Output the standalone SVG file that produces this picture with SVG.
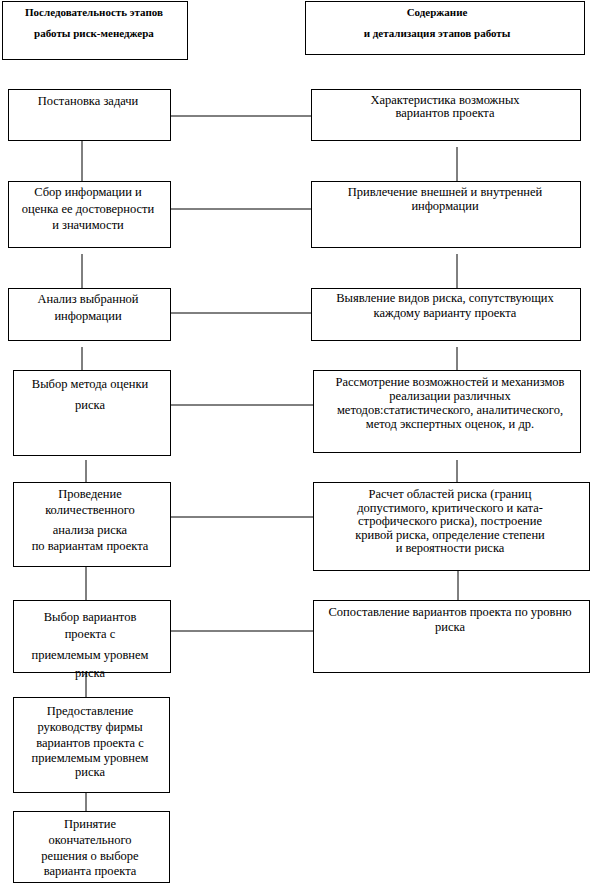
<svg xmlns="http://www.w3.org/2000/svg" width="590" height="890" viewBox="0 0 590 890" font-family="'Liberation Serif', 'DejaVu Serif', serif">
<style>
rect{fill:#fff;stroke:#000;stroke-width:1}
text{font-family:'Liberation Serif','DejaVu Serif',serif;font-size:12.5px;fill:#000;text-anchor:middle}
.h{font-weight:bold;font-size:11px}
#connectors line{stroke:#000;stroke-width:1}
</style>
<rect x="0" y="0" width="590" height="890" style="stroke:none"/>
<g id="connectors">
<line x1="170" y1="116" x2="311" y2="116"/>
<line x1="170" y1="209" x2="311" y2="209"/>
<line x1="170" y1="313" x2="311" y2="313"/>
<line x1="170" y1="405" x2="313" y2="405"/>
<line x1="170" y1="517" x2="313" y2="517"/>
<line x1="170" y1="631" x2="313" y2="631"/>
<line x1="82" y1="140" x2="82" y2="181"/>
<line x1="82" y1="254" x2="82" y2="288"/>
<line x1="82" y1="347" x2="82" y2="370"/>
<line x1="86" y1="460" x2="86" y2="482"/>
<line x1="86" y1="566" x2="86" y2="600"/>
<line x1="86" y1="672" x2="86" y2="697"/>
<line x1="86" y1="792" x2="86" y2="811"/>
<line x1="457" y1="147" x2="457" y2="181"/>
<line x1="457" y1="254" x2="457" y2="288"/>
<line x1="457" y1="347" x2="457" y2="370"/>
<line x1="457" y1="460" x2="457" y2="482"/>
<line x1="458" y1="570" x2="458" y2="600"/>
</g>
<g id="hdr-left"><rect x="2.5" y="1.5" width="185" height="58"/>
<text class="h" x="94" y="16">Последовательность этапов</text>
<text class="h" x="94" y="37">работы риск-менеджера</text></g>
<g id="hdr-right"><rect x="305.5" y="1.5" width="279" height="53"/>
<text class="h" x="437" y="16">Содержание</text>
<text class="h" x="437" y="37">и детализация этапов работы</text></g>

<g id="l1"><rect x="8.5" y="89.5" width="162" height="51"/>
<text x="88" y="105">Постановка задачи</text></g>
<g id="r1"><rect x="311.5" y="89.5" width="269" height="51"/>
<text x="445" y="104">Характеристика возможных</text>
<text x="445" y="117">вариантов проекта</text></g>

<g id="l2"><rect x="8.5" y="181.5" width="162" height="66"/>
<text x="88" y="196">Сбор информации и</text>
<text x="88" y="213">оценка ее достоверности</text>
<text x="88" y="229">и значимости</text></g>
<g id="r2"><rect x="311.5" y="181.5" width="269" height="66"/>
<text x="445" y="196">Привлечение внешней и внутренней</text>
<text x="445" y="210">информации</text></g>

<g id="l3"><rect x="8.5" y="288.5" width="162" height="52"/>
<text x="88" y="303">Анализ выбранной</text>
<text x="88" y="320">информации</text></g>
<g id="r3"><rect x="311.5" y="288.5" width="269" height="52"/>
<text x="445" y="302">Выявление видов риска, сопутствующих</text>
<text x="445" y="317">каждому варианту проекта</text></g>

<g id="l4"><rect x="13.5" y="370.5" width="157" height="85"/>
<text x="90" y="388">Выбор метода оценки</text>
<text x="90" y="409">риска</text></g>
<g id="r4"><rect x="313.5" y="370.5" width="267" height="82"/>
<text x="450" y="386">Рассмотрение  возможностей и механизмов</text>
<text x="450" y="400">реализации различных</text>
<text x="450" y="414">методов:статистического, аналитического,</text>
<text x="450" y="428">метод экспертных оценок, и др.</text></g>

<g id="l5"><rect x="13.5" y="482.5" width="157" height="84"/>
<text x="90" y="498">Проведение</text>
<text x="90" y="514">количественного</text>
<text x="90" y="534">анализа риска</text>
<text x="90" y="550">по вариантам проекта</text></g>
<g id="r5"><rect x="313.5" y="482.5" width="276" height="88"/>
<text x="450" y="498">Расчет областей риска (границ</text>
<text x="450" y="512">допустимого, критического и ката-</text>
<text x="450" y="525">строфического риска), построение</text>
<text x="450" y="539">кривой риска, определение степени</text>
<text x="450" y="552">и вероятности риска</text></g>

<g id="l6"><rect x="13.5" y="600.5" width="157" height="72"/>
<text x="90" y="621">Выбор вариантов</text>
<text x="90" y="638">проекта с</text>
<text x="90" y="659">приемлемым уровнем</text>
<text x="90" y="677">риска</text></g>
<g id="r6"><rect x="313.5" y="600.5" width="276" height="72"/>
<text x="450" y="616">Сопоставление вариантов проекта  по уровню</text>
<text x="450" y="631">риска</text></g>

<g id="l7"><rect x="13.5" y="697.5" width="156" height="95"/>
<text x="90" y="715">Предоставление</text>
<text x="90" y="731">руководству фирмы</text>
<text x="90" y="747">вариантов проекта с</text>
<text x="90" y="762">приемлемым уровнем</text>
<text x="90" y="776">риска</text></g>

<g id="l8"><rect x="13.5" y="811.5" width="156" height="71"/>
<text x="90" y="828">Принятие</text>
<text x="90" y="844">окончательного</text>
<text x="90" y="860">решения о выборе</text>
<text x="90" y="875">варианта  проекта</text></g>
</svg>
